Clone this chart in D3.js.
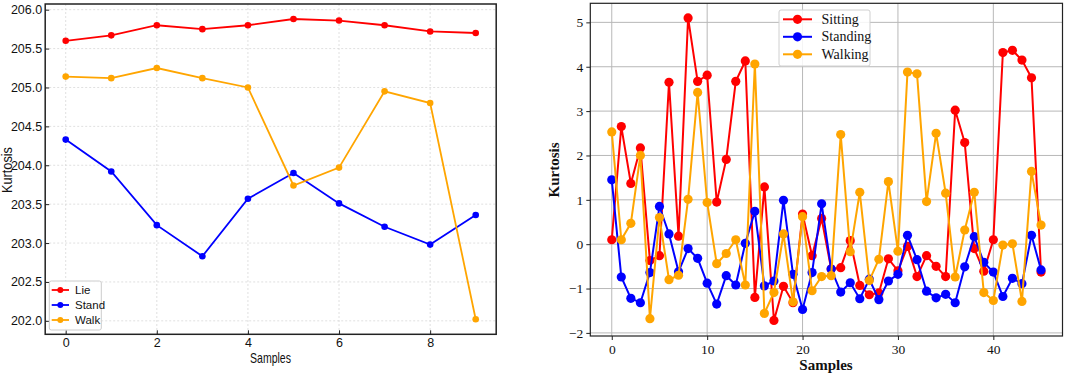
<!DOCTYPE html>
<html><head><meta charset="utf-8">
<script src="https://cdn.jsdelivr.net/npm/d3@7"></script>
<style>body{margin:0;background:#fff}svg{display:block}</style>
</head><body><svg id="c" width="1065" height="374"></svg>
<script>
// Left panel data
const leftX = [0,1,2,3,4,5,6,7,8,9];
const lie   = [205.60,205.67,205.80,205.75,205.80,205.88,205.86,205.80,205.72,205.70];
const stand = [204.33,203.92,203.23,202.83,203.57,203.90,203.51,203.21,202.98,203.36];
const walk  = [205.14,205.12,205.25,205.12,205.00,203.74,203.97,204.95,204.80,202.02];
const leftXTicks = [0,2,4,6,8];
const leftYTicks = [202.0,202.5,203.0,203.5,204.0,204.5,205.0,205.5,206.0];

// Right panel data
const sitting = [0.10,2.65,1.37,2.17,-0.37,-0.26,3.65,0.18,5.10,3.67,3.81,0.95,1.91,3.67,4.13,-1.20,1.29,-1.72,-0.95,-1.32,0.68,-0.26,0.58,-0.56,-0.53,0.08,-0.93,-1.14,-1.10,-0.33,-0.60,-0.05,-0.73,-0.26,-0.50,-0.73,3.02,2.29,-0.10,-0.61,0.10,4.32,4.37,4.15,3.75,-0.63];
const standing = [1.45,-0.74,-1.22,-1.32,-0.64,0.85,0.23,-0.62,-0.10,-0.32,-0.88,-1.35,-0.71,-0.92,0.02,0.74,-0.94,-0.83,0.99,-0.68,-1.47,-0.64,0.91,-0.56,-1.08,-0.87,-1.23,-0.79,-1.25,-0.83,-0.68,0.20,-0.35,-1.06,-1.21,-1.13,-1.32,-0.51,0.17,-0.41,-0.63,-1.18,-0.77,-0.89,0.20,-0.58];
const walking = [2.53,0.10,0.47,2.00,-1.68,0.60,-0.80,-0.70,1.01,3.42,0.94,-0.44,-0.21,0.10,-0.92,4.06,-1.56,-1.09,0.23,-1.30,0.62,-1.05,-0.73,-0.71,2.47,-0.17,1.17,-0.82,-0.34,1.41,-0.16,3.88,3.84,0.96,2.50,1.15,-0.74,0.32,1.17,-1.09,-1.27,-0.02,0.01,-1.29,1.64,0.43];
const rightXTicks = [0,10,20,30,40];
const rightYTicks = [-2,-1,0,1,2,3,4,5];

const svg = d3.select("#c");

// ---------- LEFT ----------
(function(){
  const L=45.2,R=496.2,T=4,B=334.3;
  const x=d3.scaleLinear().domain([-0.45,9.45]).range([L,R]);
  const y=d3.scaleLinear().domain([201.827,206.073]).range([B,T]);
  const g=svg.append("g");
  const font="'Liberation Sans', Arial, sans-serif";
  g.selectAll(".gx").data(leftXTicks).join("line")
    .attr("x1",d=>x(d)).attr("x2",d=>x(d)).attr("y1",T).attr("y2",B)
    .attr("stroke","#d8d8d8").attr("stroke-width",0.8).attr("stroke-dasharray","2,2");
  g.selectAll(".gy").data(leftYTicks).join("line")
    .attr("y1",d=>y(d)).attr("y2",d=>y(d)).attr("x1",L).attr("x2",R)
    .attr("stroke","#d8d8d8").attr("stroke-width",0.8).attr("stroke-dasharray","2,2");
  const ax=g.append("g").attr("transform",`translate(0,${B})`)
    .call(d3.axisBottom(x).tickValues(leftXTicks).tickFormat(d3.format("d")).tickSize(-4).tickPadding(4));
  const ay=g.append("g").attr("transform",`translate(${L},0)`)
    .call(d3.axisLeft(y).tickValues(leftYTicks).tickFormat(d3.format(".1f")).tickSize(-4).tickPadding(3));
  [ax,ay].forEach(a=>{a.select(".domain").remove();
    a.selectAll("text").attr("font-family",font).attr("font-size",12.5).attr("fill","#111");
    a.selectAll("line").attr("stroke","#222");});
  g.append("rect").attr("x",L).attr("y",T).attr("width",R-L).attr("height",B-T)
    .attr("fill","none").attr("stroke","#222").attr("stroke-width",1.5);
  const series=[{n:"Lie",v:lie,c:"#ff0000"},{n:"Stand",v:stand,c:"#0000ff"},{n:"Walk",v:walk,c:"#ffa500"}];
  const line=d3.line().x((d,i)=>x(leftX[i])).y(d=>y(d));
  series.forEach(s=>{
    g.append("path").attr("d",line(s.v)).attr("fill","none").attr("stroke",s.c).attr("stroke-width",1.8);
    g.selectAll(null).data(s.v).join("circle").attr("cx",(d,i)=>x(leftX[i])).attr("cy",d=>y(d))
      .attr("r",3.3).attr("fill",s.c);
  });
  const lg=g.append("g");
  lg.append("rect").attr("x",49.3).attr("y",281).attr("width",52).attr("height",49).attr("rx",2)
    .attr("fill","#fff").attr("fill-opacity",0.85).attr("stroke","#ccc");
  series.forEach((s,i)=>{
    const yy=290+i*15;
    lg.append("line").attr("x1",51.7).attr("x2",69).attr("y1",yy).attr("y2",yy).attr("stroke",s.c).attr("stroke-width",1.8);
    lg.append("circle").attr("cx",60.3).attr("cy",yy).attr("r",3).attr("fill",s.c);
    lg.append("text").attr("x",75).attr("y",yy+4).text(s.n).attr("font-family",font).attr("font-size",11.5).attr("fill","#111");
  });
  g.append("text").attr("x",250).attr("y",362.5).attr("font-family",font)
    .attr("font-size",14.5).attr("textLength",41).attr("lengthAdjust","spacingAndGlyphs").attr("fill","#111").text("Samples");
  g.append("text").attr("transform","translate(11.5,193) rotate(-90)").attr("font-family",font)
    .attr("font-size",14.5).attr("textLength",46).attr("lengthAdjust","spacingAndGlyphs").attr("fill","#111").text("Kurtosis");
})();

// ---------- RIGHT ----------
(function(){
  const L=590.3,R=1062.5,T=3.3,B=336;
  const x=d3.scaleLinear().domain([-2.25,47.25]).range([L,R]);
  const y=d3.scaleLinear().domain([-2.07,5.43]).range([B,T]);
  const g=svg.append("g");
  const font="'Liberation Serif', 'Times New Roman', serif";
  g.selectAll(".gx").data(rightXTicks).join("line")
    .attr("x1",d=>x(d)).attr("x2",d=>x(d)).attr("y1",T).attr("y2",B)
    .attr("stroke","#b8b8b8").attr("stroke-width",1);
  g.selectAll(".gy").data(rightYTicks).join("line")
    .attr("y1",d=>y(d)).attr("y2",d=>y(d)).attr("x1",L).attr("x2",R)
    .attr("stroke","#b8b8b8").attr("stroke-width",1);
  const ax=g.append("g").attr("transform",`translate(0,${B})`)
    .call(d3.axisBottom(x).tickValues(rightXTicks).tickFormat(d3.format("d")).tickSize(4).tickPadding(4));
  const ay=g.append("g").attr("transform",`translate(${L},0)`)
    .call(d3.axisLeft(y).tickValues(rightYTicks).tickFormat(d=>d<0?"\u2212"+Math.abs(d):d).tickSize(4).tickPadding(3));
  [ax,ay].forEach(a=>{a.select(".domain").remove();
    a.selectAll("text").attr("font-family",font).attr("font-size",13.5).attr("fill","#111");
    a.selectAll("line").attr("stroke","#222");});
  g.append("rect").attr("x",L).attr("y",T).attr("width",R-L).attr("height",B-T)
    .attr("fill","none").attr("stroke","#222").attr("stroke-width",1.2);
  const series=[{n:"Sitting",v:sitting,c:"#ff0000"},{n:"Standing",v:standing,c:"#0000ff"},{n:"Walking",v:walking,c:"#ffa500"}];
  const line=d3.line().x((d,i)=>x(i)).y(d=>y(d));
  series.forEach(s=>{
    g.append("path").attr("d",line(s.v)).attr("fill","none").attr("stroke",s.c).attr("stroke-width",2);
    g.selectAll(null).data(s.v).join("circle").attr("cx",(d,i)=>x(i)).attr("cy",d=>y(d))
      .attr("r",4.6).attr("fill",s.c);
  });
  const lg=g.append("g");
  lg.append("rect").attr("x",779).attr("y",10).attr("width",91).attr("height",56).attr("rx",2)
    .attr("fill","#fff").attr("fill-opacity",0.85).attr("stroke","#d0d0d0");
  series.forEach((s,i)=>{
    const yy=19.3+i*17.5;
    lg.append("line").attr("x1",783).attr("x2",812).attr("y1",yy).attr("y2",yy).attr("stroke",s.c).attr("stroke-width",2);
    lg.append("circle").attr("cx",797.5).attr("cy",yy).attr("r",4.6).attr("fill",s.c);
    lg.append("text").attr("x",821.5).attr("y",yy+4.5).text(s.n).attr("font-family",font).attr("font-size",14).attr("fill","#111");
  });
  g.append("text").attr("x",826).attr("y",370).attr("text-anchor","middle").attr("font-family",font)
    .attr("font-size",15).attr("font-weight","bold").attr("fill","#111").text("Samples");
  g.append("text").attr("transform","translate(559,170) rotate(-90)").attr("text-anchor","middle").attr("font-family",font)
    .attr("font-size",15).attr("font-weight","bold").attr("fill","#111").text("Kurtosis");
})();
</script></body></html>
